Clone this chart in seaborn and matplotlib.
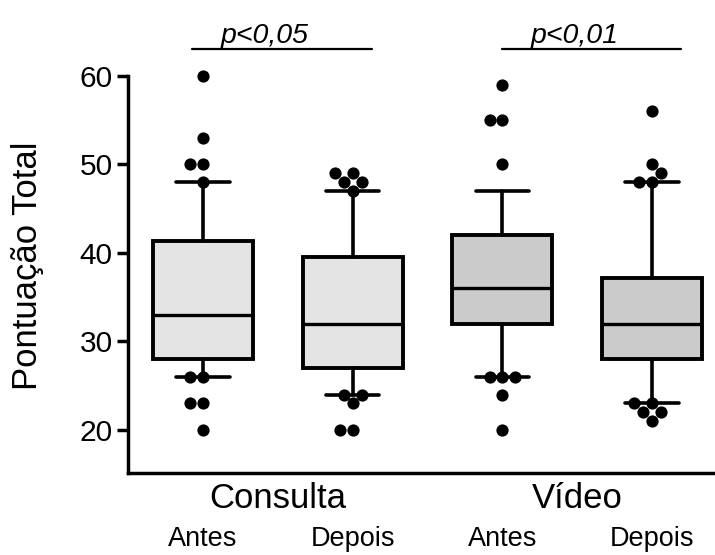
import matplotlib
matplotlib.use("Agg")
import matplotlib.pyplot as plt
import seaborn as sns
import pandas as pd

# ---------------- data ----------------
grupos = ["Consulta", "Vídeo"]
momentos = ["Antes", "Depois", "Antes", "Depois"]
caixas = ["Consulta-Antes", "Consulta-Depois", "Vídeo-Antes", "Vídeo-Depois"]

q1 = [28.0, 27.0, 32.0, 28.0]
mediana = [33.0, 32.0, 36.0, 32.0]
q3 = [41.3, 39.5, 42.0, 37.2]
bigode_inf = [26.0, 24.0, 26.0, 23.0]
bigode_sup = [48.0, 47.0, 47.0, 48.0]

pontos_consulta_antes = [60, 53, 50, 50, 48, 26, 26, 23, 23, 20]
pontos_consulta_depois = [49, 49, 48, 48, 47, 24, 24, 23, 20, 20]
pontos_video_antes = [59, 55, 55, 50, 26, 26, 26, 24, 20]
pontos_video_depois = [56, 50, 49, 48, 48, 23, 23, 22, 22, 21]

anotacoes = ["p<0,05", "p<0,01"]
yticks = [20, 30, 40, 50, 60]
ylabel = "Pontuação Total"

cores = ["#e4e4e4", "#e4e4e4", "#cbcbcb", "#cbcbcb"]

# ---------------- plot ----------------
sns.set_style("ticks")
plt.rcParams["font.family"] = ["Liberation Sans", "DejaVu Sans"]
plt.rcParams["text.color"] = "black"
plt.rcParams["axes.labelcolor"] = "black"
plt.rcParams["xtick.color"] = "black"
plt.rcParams["ytick.color"] = "black"

fig = plt.figure(figsize=(7.15, 5.55), dpi=100)
ax = fig.add_axes([128 / 715, 1 - 473 / 555, 1 - 128 / 715, (473 - 20) / 555])

pontos = [pontos_consulta_antes, pontos_consulta_depois, pontos_video_antes, pontos_video_depois]
df = pd.DataFrame({
    "caixa": [c for c, p in zip(caixas, pontos) for _ in p],
    "valor": [v for p in pontos for v in p],
})

sns.swarmplot(data=df, x="caixa", y="valor", order=caixas, color="black",
              size=8.8, ax=ax, zorder=5, linewidth=0)

stats = [dict(q1=a, med=m, q3=b, whislo=lo, whishi=hi, fliers=[])
         for a, m, b, lo, hi in zip(q1, mediana, q3, bigode_inf, bigode_sup)]
bp = ax.bxp(stats, positions=range(4), widths=0.668, capwidths=0.356,
            showfliers=False, patch_artist=True, manage_ticks=False,
            boxprops=dict(linewidth=2.8, edgecolor="black"),
            medianprops=dict(color="black", linewidth=2.4),
            whiskerprops=dict(color="black", linewidth=2.6),
            capprops=dict(color="black", linewidth=2.6), zorder=2)
for patch, c in zip(bp["boxes"], cores):
    patch.set_facecolor(c)

ymin, ymax = 15.14, 66.3
ax.set_xlim(-0.501, 3.42)
ax.set_ylim(ymin, ymax)
sns.despine(ax=ax)
ax.spines["left"].set_bounds(ymin, 60)
for s in ["left", "bottom"]:
    ax.spines[s].set_linewidth(2.5)
    ax.spines[s].set_color("black")
ax.set_yticks(yticks)
ax.set_xticks([])
ax.set_xlabel("")
ax.set_ylabel("")
ax.tick_params(axis="y", length=8, width=2.5, labelsize=21.5, pad=3, colors="black")

# x labels
tr = ax.get_xaxis_transform()
for i, m in enumerate(momentos):
    ax.text(i, -0.161, m, transform=tr, ha="center", va="baseline", fontsize=19.5)
for j, g in enumerate(grupos):
    ax.text(2 * j + 0.5, -0.078, g, transform=tr, ha="center", va="baseline", fontsize=25)

# y label
fig.text(28 / 715, 1 - 266 / 555, ylabel, rotation=90, ha="center", va="center", fontsize=25)

# significance annotations
linhas = [(-0.074, 1.128), (2.00, 3.19)]
textos_x = [0.41, 2.48]
for (x0, x1), tx, t in zip(linhas, textos_x, anotacoes):
    ax.plot([x0, x1], [63.05, 63.05], color="black", lw=1.6, clip_on=False)
    ax.text(tx, 63.7, t, ha="center", va="baseline", fontsize=20.5, style="italic")

fig.savefig("out.png", dpi=100)
